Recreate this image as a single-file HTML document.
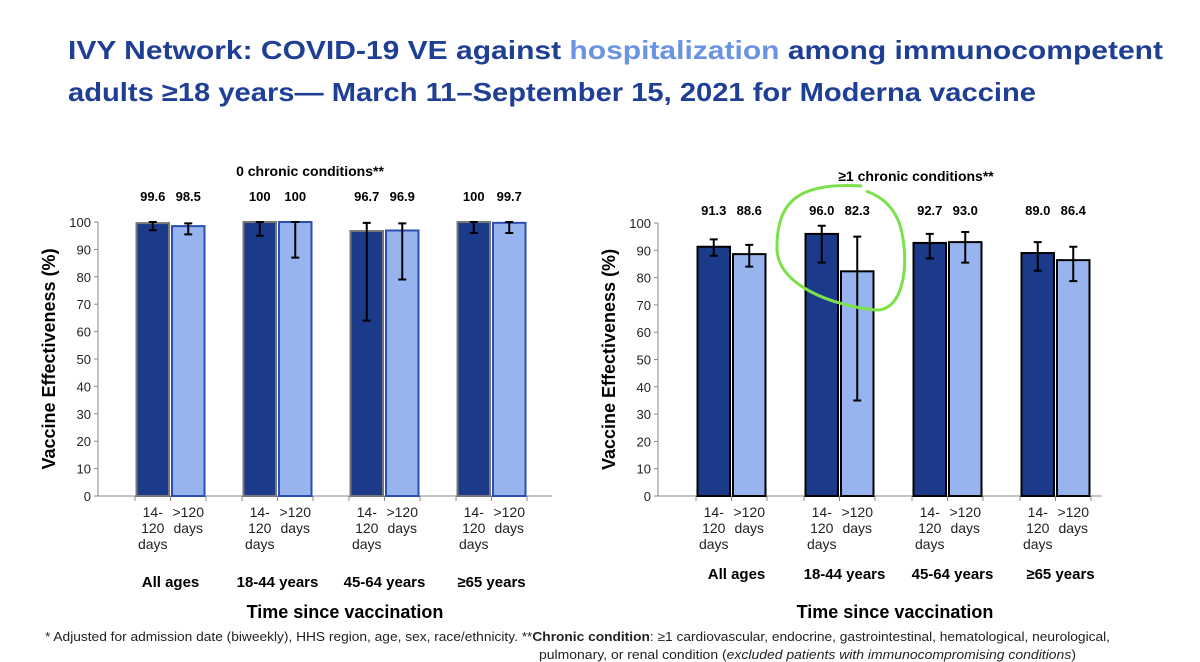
<!DOCTYPE html>
<html><head><meta charset="utf-8"><style>
body{margin:0;background:#fff;width:1200px;height:662px;overflow:hidden}
svg{display:block;font-family:"Liberation Sans",sans-serif}
</style></head><body>
<svg id="svg" width="1200" height="662" viewBox="0 0 1200 662">
<text x="68" y="59" font-size="26" font-weight="bold" fill="#1F3F95" textLength="1095" lengthAdjust="spacingAndGlyphs">IVY Network: COVID-19 VE against <tspan fill="#6A93E3">hospitalization</tspan> among immunocompetent</text>
<text x="68" y="101" font-size="26" font-weight="bold" fill="#1F3F95" textLength="968" lengthAdjust="spacingAndGlyphs">adults ≥18 years— March 11–September 15, 2021 for Moderna vaccine</text>
<text x="45" y="641" font-size="13" fill="#222" textLength="1065" lengthAdjust="spacingAndGlyphs">* Adjusted for admission date (biweekly), HHS region, age, sex, race/ethnicity.  **<tspan font-weight="bold">Chronic condition</tspan>: ≥1 cardiovascular, endocrine, gastrointestinal, hematological, neurological,</text>
<text x="539" y="659" font-size="13" fill="#222" textLength="537" lengthAdjust="spacingAndGlyphs">pulmonary, or renal condition (<tspan font-style="italic">excluded patients with immunocompromising conditions</tspan>)</text>
</svg>
<script>
const groups = ["All ages","18-44 years","45-64 years","≥65 years"];
const seriesNames = ["14-120 days",">120 days"];
const yTicks = [0,10,20,30,40,50,60,70,80,90,100];
const leftVals = [[99.6,98.5],[100,100],[96.7,96.9],[100,99.7]];
const leftLabels = [["99.6","98.5"],["100","100"],["96.7","96.9"],["100","99.7"]];
const leftLo = [[97,95.5],[95,87],[64,79],[96,96]];
const leftHi = [[100,99.5],[100,100],[99.7,99.5],[100,100]];
const rightVals = [[91.3,88.6],[96.0,82.3],[92.7,93.0],[89.0,86.4]];
const rightLabels = [["91.3","88.6"],["96.0","82.3"],["92.7","93.0"],["89.0","86.4"]];
const rightLo = [[88,84],[85.5,35],[87,85.5],[82.5,78.7]];
const rightHi = [[94,92],[99,95],[96,96.7],[93,91.3]];

const svg = document.getElementById('svg');
const NS = 'http://www.w3.org/2000/svg';
function mk(tag, attrs, txt){const e=document.createElementNS(NS,tag);for(const k in attrs)e.setAttribute(k,attrs[k]);if(txt!==undefined)e.textContent=txt;svg.appendChild(e);return e;}

function chart(cfg, vals, labels, lo, hi, key){
  const y = v => cfg.y0 - (v/100)*(cfg.y0-cfg.y100);
  const gx = g => cfg.gx0 + g*cfg.gs;
  let e;
  e=mk('text',{x:cfg.titleX,y:cfg.titleY,'font-size':14,'font-weight':'bold','text-anchor':'middle'},cfg.title);
  
  
  yTicks.forEach(t=>{
    e=mk('text',{x:cfg.ax-7,y:y(t)+5,'font-size':13,'text-anchor':'end',fill:'#222'},String(t));
    
    
    e=mk('line',{x1:cfg.ax-4,x2:cfg.ax,y1:y(t),y2:y(t),stroke:'#888'});
    
    
  });
  e=mk('line',{x1:cfg.ax,x2:cfg.ax,y1:y(0),y2:y(100),stroke:'#888'});
  
  
  e=mk('line',{x1:cfg.ax,x2:cfg.axEnd,y1:y(0),y2:y(0),stroke:'#888'});
  
  
  e=mk('text',{x:0,y:0,'font-size':18,'font-weight':'bold','text-anchor':'middle',transform:`translate(${cfg.ylx},${(y(0)+y(100))/2})) rotate(-90)`.replace('))',')')},'Vaccine Effectiveness (%)');
  
  
  e=mk('text',{x:cfg.xtX,y:618,'font-size':18,'font-weight':'bold','text-anchor':'middle'},'Time since vaccination');
  
  
  groups.forEach((gname,g)=>{
    const base=gx(g);
    for(let k=0;k<=2;k++){
      e=mk('line',{x1:base+k*cfg.bw,x2:base+k*cfg.bw,y1:y(0),y2:y(0)+5,stroke:'#888'});
      
      
    }
    vals[g].forEach((v,s)=>{
      const x=base+s*cfg.bw+1.5, w=cfg.bw-3, cx=base+s*cfg.bw+cfg.bw/2;
      e=mk('rect',{x:x,y:y(v),width:w,height:y(0)-y(v),fill:s?'#97B4EE':'#1B3A8A',stroke:cfg.stroke[s],'stroke-width':2});
      
      
      e=mk('path',{d:`M${cx},${y(lo[g][s])}V${y(hi[g][s])}M${cx-4},${y(lo[g][s])}h8M${cx-4},${y(hi[g][s])}h8`,stroke:'#000','stroke-width':2,fill:'none'});
      
      
      e=mk('text',{x:cx,y:cfg.valY,'font-size':13,'font-weight':'bold','text-anchor':'middle'},labels[g][s]);
      
      
      const lines = s ? ['>120','days'] : ['14-','120','days'];
      lines.forEach((t,i)=>{
        e=mk('text',{x:cx,y:517+i*16,'font-size':14,'text-anchor':'middle',fill:'#222'},t);
        
        
      });
    });
    e=mk('text',{x:base+cfg.bw+(cfg.catOff||0),y:cfg.catY,'font-size':15,'font-weight':'bold','text-anchor':'middle'},gname);
    
    
  });
}
chart({y0:496,y100:222,ax:98,axEnd:552,gx0:135,gs:107,bw:35.5,titleX:310,titleY:176,valY:201,ylx:55,xtX:345,catY:587,stroke:['#777','#2B4FB0'],title:'0 chronic conditions**'},leftVals,leftLabels,leftLo,leftHi,'left');
chart({y0:496,y100:223,ax:658,axEnd:1102,gx0:696,gs:108,bw:35.5,titleX:916,titleY:181,valY:215,ylx:615,xtX:895,catY:579,catOff:5,stroke:['#000','#000'],title:'≥1 chronic conditions**'},rightVals,rightLabels,rightLo,rightHi,'right');
const ring = mk('path',{d:'M862,186 C800,182 776,200 777,250 C779,285 830,305 875,310 C905,312 910,260 900,225 C893,205 880,196 866,191',fill:'none',stroke:'#7BE04A','stroke-width':3});


</script>
</body></html>
